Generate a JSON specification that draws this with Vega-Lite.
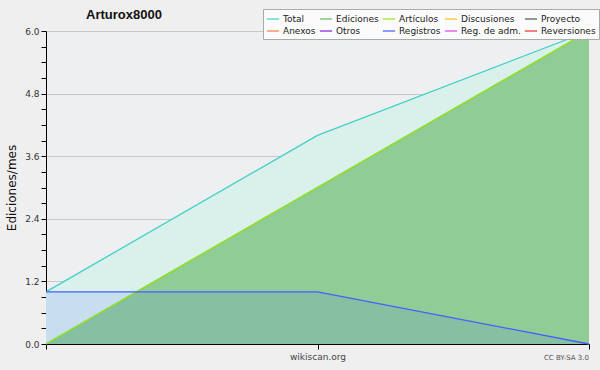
{
  "$schema": "https://vega.github.io/schema/vega-lite/v6.json",
  "autosize": "none",
  "width": 543,
  "height": 313,
  "padding": {"left": 46, "top": 31, "right": 11, "bottom": 26},
  "background": "#efefef",
  "title": {"text": "Arturox8000", "anchor": "start", "frame": "group", "dx": 40, "dy": 22, "offset": 9, "font": "Liberation Sans", "fontSize": 13, "fontWeight": "bold", "color": "#111"},
  "config": {
    "view": {"stroke": null, "fill": "#eeeff0"},
    "font": "DejaVu Sans"
  },
  "data": {"values": [
    {"mes": 0, "serie": "Total", "valor": 1},
    {"mes": 1, "serie": "Total", "valor": 4},
    {"mes": 2, "serie": "Total", "valor": 6},
    {"mes": 0, "serie": "Ediciones", "valor": 0},
    {"mes": 1, "serie": "Ediciones", "valor": 3},
    {"mes": 2, "serie": "Ediciones", "valor": 6},
    {"mes": 0, "serie": "Artículos", "valor": 0},
    {"mes": 1, "serie": "Artículos", "valor": 3},
    {"mes": 2, "serie": "Artículos", "valor": 6},
    {"mes": 0, "serie": "Registros", "valor": 1},
    {"mes": 1, "serie": "Registros", "valor": 1},
    {"mes": 2, "serie": "Registros", "valor": 0}
  ]},
  "encoding": {
    "x": {"field": "mes", "type": "quantitative", "scale": {"domain": [0, 2], "nice": false, "zero": false},
      "axis": {"values": [0, 1, 2], "labels": false, "grid": false, "domainColor": "#000", "tickColor": "#000", "tickSize": 5, "title": "wikiscan.org", "titleFont": "DejaVu Sans", "titleFontSize": 9, "titleFontWeight": "normal", "titleColor": "#444", "titlePadding": 3}},
    "y": {"field": "valor", "type": "quantitative", "scale": {"domain": [0, 6], "nice": false},
      "axis": {"values": [0, 0.3, 0.6, 0.9, 1.2, 1.5, 1.8, 2.1, 2.4, 2.7, 3.0, 3.3, 3.6, 3.9, 4.2, 4.5, 4.8, 5.1, 5.4, 5.7, 6.0],
        "labelExpr": "round(datum.value*10) % 12 == 0 ? format(datum.value, '.1f') : ''",
        "gridOpacity": {"condition": {"test": "round(datum.value*10) % 12 == 0 && datum.value > 0", "value": 1}, "value": 0},
        "gridColor": "#c8c8c8", "domainColor": "#000", "tickColor": "#000", "tickSize": 5,
        "labelFontSize": 9, "labelColor": "#333", "labelPadding": 2,
        "title": "Ediciones/mes", "titleFontSize": 12, "titleFontWeight": "normal", "titleColor": "#111", "titlePadding": 6}}
  },
  "layer": [
    {"transform": [{"filter": "datum.serie == 'Total'"}], "mark": {"type": "area", "color": "#d9f0eb", "opacity": 1}},
    {"transform": [{"filter": "datum.serie == 'Ediciones'"}], "mark": {"type": "area", "color": "#90cc96", "opacity": 1}},
    {"transform": [{"filter": "datum.serie == 'Registros'"}], "mark": {"type": "area", "color": "#4060ff", "opacity": 0.12}},
    {"mark": {"type": "line", "strokeWidth": 1.3},
      "encoding": {
        "color": {"field": "serie", "type": "nominal",
          "scale": {"domain": ["Total", "Ediciones", "Artículos", "Discusiones", "Proyecto", "Anexos", "Otros", "Registros", "Reg. de adm.", "Reversiones"],
            "range": ["#40d0c8", "#66bb66", "#99e619", "#f0c020", "#555555", "#f08040", "#8020e0", "#4060ff", "#e040f0", "#f03030"]},
          "legend": {"title": null, "orient": "none", "legendX": 217, "legendY": -22, "columns": 5, "direction": "horizontal",
            "symbolType": "stroke", "symbolSize": 150, "symbolStrokeWidth": 1.2, "labelOffset": 3,
            "labelFontSize": 9, "labelColor": "#222", "labelFont": "DejaVu Sans", "columnPadding": 1, "rowPadding": -1,
            "fillColor": "#fbfbfb", "strokeColor": "#aaaaaa", "padding": 3}},
        "order": {"field": "serie"}
      }},
    {"data": {"values": [{"mes": 2, "valor": 0, "txt": "CC BY-SA 3.0"}]},
      "mark": {"type": "text", "align": "right", "baseline": "top", "dy": 10, "fontSize": 7, "color": "#555"},
      "encoding": {"text": {"field": "txt"}}}
  ]
}
